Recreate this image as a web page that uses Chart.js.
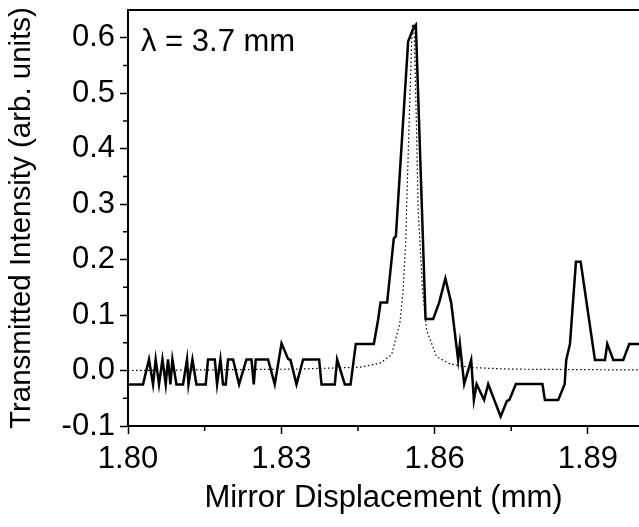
<!DOCTYPE html>
<html>
<head>
<meta charset="utf-8">
<script src="https://cdn.jsdelivr.net/npm/chart.js@4.4.1/dist/chart.umd.min.js"></script>
<style>
    html, body { margin: 0; padding: 0; background: #fff; }
    #chart { display: block; }
</style>
</head>
<body>
<canvas id="chart" width="639" height="527"></canvas>
<script>
// measured trace (solid)
const measX = [1.8000, 1.80294, 1.80411, 1.80490, 1.80542, 1.80607, 1.80674, 1.80738, 1.80783, 1.80830,
    1.80869, 1.80948, 1.81077, 1.81155, 1.81183, 1.81261, 1.81339, 1.81521, 1.81566, 1.81698,
    1.81743, 1.81809, 1.81860, 1.81913, 1.81958, 1.82056, 1.82173, 1.82318, 1.82416, 1.82461,
    1.82500, 1.82741, 1.82872, 1.83004, 1.83133, 1.83180, 1.83297, 1.83427, 1.83740, 1.83787,
    1.84047, 1.84092, 1.84243, 1.84355, 1.84458, 1.84811, 1.84895, 1.84942, 1.85071, 1.85202,
    1.85242, 1.85482, 1.85590, 1.85633, 1.85823, 1.85972, 1.86089, 1.86211, 1.86324, 1.86461,
    1.86495, 1.86579, 1.86716, 1.86769, 1.86822, 1.86969, 1.87049, 1.87292, 1.87415, 1.87464,
    1.87591, 1.88110, 1.88159, 1.88419, 1.88545, 1.88576, 1.88649, 1.88766, 1.88858, 1.89138,
    1.89334, 1.89379, 1.89497, 1.89692, 1.89810, 1.90000];
const measY = [-0.025, -0.025, 0.02, -0.025, 0.02, -0.025, 0.02, -0.025, 0.02, -0.025,
    0.02, -0.025, -0.025, 0.02, -0.025, 0.02, -0.025, -0.025, 0.02, 0.02,
    -0.025, 0.02, -0.025, -0.025, 0.02, 0.02, -0.025, 0.02, 0.02, -0.025,
    0.02, 0.02, -0.025, 0.049, 0.021, 0.019, -0.025, 0.02, 0.02, -0.025,
    -0.025, 0.02, -0.025, -0.025, 0.048, 0.048, 0.092, 0.1225, 0.1225, 0.2385,
    0.242, 0.593, 0.618, 0.623, 0.093, 0.093, 0.1225, 0.166, 0.1225, 0.019,
    0.048, -0.0245, 0.019, -0.053, -0.0245, -0.053, -0.0245, -0.083, -0.055, -0.053,
    -0.0245, -0.0245, -0.053, -0.053, -0.0245, 0.019, 0.048, 0.196, 0.196, 0.019,
    0.019, 0.048, 0.019, 0.019, 0.048, 0.048];

// fitted curve (dotted)
const fitX = [1.8000, 1.83264, 1.84537, 1.84928, 1.85157, 1.85320, 1.85384, 1.85437, 1.85451, 1.85506,
    1.85561, 1.85580, 1.85604, 1.85643, 1.85678, 1.85711, 1.85764, 1.85843, 1.86038, 1.86299,
    1.86690, 1.87474, 1.90000];
const fitY = [0.0, 0.0025, 0.006, 0.013, 0.028, 0.085, 0.145, 0.235, 0.29, 0.46,
    0.62, 0.625, 0.60, 0.45, 0.29, 0.235, 0.145, 0.073, 0.025, 0.012,
    0.0055, 0.0025, 0.001];

const xMajor = [1.80, 1.83, 1.86, 1.89];
const xMinor = [1.815, 1.845, 1.875];
const yMajor = [-0.1, 0.0, 0.1, 0.2, 0.3, 0.4, 0.5, 0.6];
const yMinor = [-0.05, 0.05, 0.15, 0.25, 0.35, 0.45, 0.55];

const FONT = '"Liberation Sans", Arial, sans-serif';
Chart.defaults.font.family = FONT;
Chart.defaults.color = '#000';

// minor ticks, top frame line and the wavelength note
const extras = {
    id: 'extras',
    afterDraw(chart) {
        const { ctx, chartArea, scales } = chart;
        ctx.save();
        ctx.strokeStyle = '#000';
        ctx.lineWidth = 1.5;
        ctx.beginPath();
        xMinor.forEach(v => {
            const px = scales.x.getPixelForValue(v);
            ctx.moveTo(px, chartArea.bottom);
            ctx.lineTo(px, chartArea.bottom + 5);
        });
        yMinor.forEach(v => {
            const py = scales.y.getPixelForValue(v);
            ctx.moveTo(chartArea.left, py);
            ctx.lineTo(chartArea.left - 5, py);
        });
        ctx.stroke();

        ctx.lineWidth = 2;
        ctx.beginPath();
        ctx.moveTo(chartArea.left - 1, chartArea.top);
        ctx.lineTo(chartArea.right, chartArea.top);
        ctx.stroke();

        ctx.fillStyle = '#000';
        ctx.font = '31px ' + FONT;
        ctx.textBaseline = 'alphabetic';
        ctx.fillText('\u03bb = 3.7 mm', chartArea.left + 13, chartArea.top + 41);
        ctx.restore();
    }
};

// drop the label overhang padding so the plot area sits where the reference has it
function noPad(s) {
    s.paddingTop = 0;
    s.paddingBottom = 0;
    s.paddingLeft = 0;
    s.paddingRight = 0;
}

new Chart(document.getElementById('chart'), {
    type: 'line',
    data: {
        datasets: [
            {
                data: fitX.map((x, i) => ({ x: x, y: fitY[i] })),
                borderColor: '#000',
                borderWidth: 1.2,
                borderDash: [1.5, 2.5],
                pointRadius: 0,
                tension: 0
            },
            {
                data: measX.map((x, i) => ({ x: x, y: measY[i] })),
                borderColor: '#000',
                borderWidth: 2.5,
                pointRadius: 0,
                tension: 0
            }
        ]
    },
    options: {
        responsive: false,
        animation: false,
        layout: { padding: { top: 10, right: 0, left: 0, bottom: 0 } },
        plugins: {
            legend: { display: false },
            tooltip: { enabled: false }
        },
        scales: {
            x: {
                type: 'linear',
                min: 1.80,
                max: 1.90,
                afterBuildTicks: s => { s.ticks = xMajor.map(v => ({ value: v })); },
                afterFit: s => { s.height = 101; noPad(s); },
                ticks: {
                    callback: v => v.toFixed(2),
                    font: { size: 31 },
                    color: '#000',
                    padding: 7,
                    maxRotation: 0
                },
                grid: {
                    drawOnChartArea: false,
                    drawTicks: true,
                    tickLength: 8,
                    tickColor: '#000',
                    tickWidth: 1.5
                },
                border: { color: '#000', width: 2 },
                title: {
                    display: true,
                    text: 'Mirror Displacement (mm)',
                    font: { size: 31 },
                    color: '#000',
                    padding: { top: 0, bottom: 10 }
                }
            },
            y: {
                min: -0.1,
                max: 0.65,
                afterBuildTicks: s => { s.ticks = yMajor.map(v => ({ value: v })); },
                afterFit: s => { s.width = 128; noPad(s); },
                ticks: {
                    callback: v => v.toFixed(1),
                    font: { size: 31 },
                    color: '#000',
                    padding: 5
                },
                grid: {
                    drawOnChartArea: false,
                    drawTicks: true,
                    tickLength: 8,
                    tickColor: '#000',
                    tickWidth: 1.5
                },
                border: { color: '#000', width: 2 },
                title: {
                    display: true,
                    text: 'Transmitted Intensity (arb. units)',
                    font: { size: 29.5 },
                    color: '#000',
                    padding: { top: 4, bottom: 0 }
                }
            }
        }
    },
    plugins: [extras]
});
</script>
</body>
</html>
